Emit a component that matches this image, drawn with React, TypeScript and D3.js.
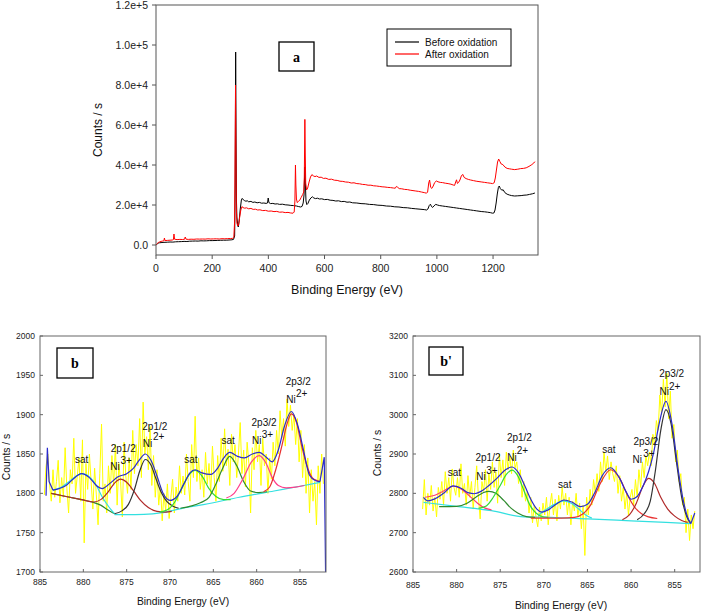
import React from "react";
import * as d3 from "d3";

type P = [number, number];

// ---------- Survey (panel a) ----------
const surveyTicksX = [0, 200, 400, 600, 800, 1000, 1200];
const surveyTicksY = [0, 20000, 40000, 60000, 80000, 100000, 120000];
const legendLabels = ["Before oxidation", "After oxidation"];

const surveyBefore: P[] = [
  [0,0],[4,500],[8,900],[12,1100],[18,1200],[25,1300],[32,1350],[40,1400],[50,1500],[60,1450],[70,1600],[80,1650],[90,1700],[100,1800],[110,1750],[120,1900],[130,1950],[140,2000],[150,1950],[160,2100],[170,2050],[180,2100],[190,2200],[200,2200],[210,2250],[220,2300],[230,2350],[240,2400],[250,2400],[260,2500],[270,2600],[276,2800],[280,4500],[282,30000],[283.6,96500],[285,55000],[286.5,22000],[288,14000],[291,10000],[293,9000],[296,12000],[300,18000],[304,22500],[307,23300],[311,22600],[315,22200],[320,21900],[325,22100],[330,21600],[338,21800],[345,21300],[352,21500],[360,21100],[368,21300],[376,20900],[384,21000],[392,20800],[397,21000],[399.5,23500],[402,21200],[408,20700],[416,20800],[424,20500],[432,20600],[440,20300],[450,20400],[460,20100],[470,20000],[480,19800],[490,19700],[500,19500],[508,19200],[515,19000],[520,19300],[524,21000],[527,25000],[530,39000],[532,30000],[534,22000],[537,20200],[541,20800],[546,22500],[552,23600],[557,24100],[562,23500],[568,23200],[575,23400],[582,23000],[590,23100],[600,22700],[610,22800],[620,22400],[630,22300],[640,22000],[650,22100],[660,21700],[670,21800],[680,21400],[690,21500],[700,21100],[715,21000],[730,20700],[745,20600],[760,20300],[775,20200],[790,19900],[805,19800],[820,19500],[835,19400],[850,19100],[865,19000],[880,18700],[895,18600],[910,18300],[925,18100],[940,17900],[955,17700],[964,17500],[968,18000],[973,19800],[977,20400],[981,19200],[985,18800],[990,19600],[996,20300],[1002,20000],[1010,19700],[1020,19500],[1030,19300],[1040,19100],[1050,18900],[1060,18700],[1070,18500],[1080,18300],[1090,18100],[1100,17900],[1110,17700],[1120,17500],[1130,17300],[1140,17100],[1150,16900],[1160,16700],[1170,16600],[1180,16400],[1190,16200],[1198,15900],[1203,16000],[1207,17500],[1211,21000],[1215,25500],[1219,28800],[1222,29500],[1226,28200],[1231,27400],[1236,27600],[1242,26200],[1250,25400],[1258,25000],[1266,24700],[1277,24500],[1288,24600],[1300,24700],[1310,24900],[1320,25000],[1330,25300],[1340,25600],[1349,26000]
];

const surveyAfter: P[] = [
  [0,0],[4,700],[8,1200],[12,1500],[18,1800],[24,2000],[28,2100],[30,3500],[32,2200],[40,2300],[50,2400],[58,2500],[62,2700],[64,5500],[66,2900],[75,2700],[85,2800],[95,2750],[102,2900],[104,4000],[107,2900],[115,2800],[125,2900],[135,2850],[145,3000],[155,2950],[165,3000],[175,2950],[185,3100],[195,3000],[205,3050],[215,3100],[225,3000],[235,3150],[245,3100],[255,3200],[265,3250],[272,3300],[277,3800],[280,12000],[281.5,45000],[283.2,80000],[284.5,52000],[286,18000],[288,11000],[291,9500],[294,10000],[298,14000],[302,17500],[306,19200],[310,18700],[316,18400],[322,18600],[330,18100],[338,18300],[346,17800],[354,17900],[362,17500],[370,17600],[380,17200],[390,17300],[400,16900],[410,17000],[420,16700],[430,16800],[440,16400],[450,16500],[460,16200],[470,16300],[480,16000],[488,15900],[492,16500],[494.5,22000],[496.5,40000],[498,30000],[500,23000],[503,21200],[507,21800],[512,22500],[517,23800],[522,25200],[526,26500],[528,34000],[530,62800],[531.5,45000],[533,31000],[536,27500],[540,28500],[545,31500],[550,34000],[555,35200],[560,34600],[566,34200],[572,34500],[580,33800],[588,33900],[596,33300],[605,33400],[615,32800],[625,32900],[635,32400],[645,32300],[655,31900],[665,31800],[675,31500],[685,31400],[695,31000],[705,31100],[715,30700],[725,30600],[735,30300],[745,30200],[755,29900],[765,29900],[775,29600],[785,29500],[795,29300],[805,29100],[815,29000],[825,28800],[835,28700],[845,28500],[852,28400],[856,29300],[860,28900],[866,28200],[875,28100],[885,27800],[895,27700],[905,27400],[915,27200],[925,27000],[935,26800],[945,26500],[955,26200],[963,25900],[967,26500],[971,31000],[974,32500],[978,28800],[982,28300],[987,29500],[992,31200],[998,32000],[1004,31600],[1012,31300],[1020,31200],[1030,30900],[1040,30700],[1050,30400],[1058,30000],[1063,29800],[1067,31500],[1070,32600],[1073,30800],[1077,31200],[1082,32500],[1087,34500],[1092,35300],[1097,33800],[1104,33200],[1112,32800],[1120,32500],[1130,32200],[1140,31900],[1150,31700],[1160,31500],[1170,31300],[1180,31100],[1190,30900],[1198,30700],[1204,31100],[1208,33500],[1212,37500],[1216,41500],[1220,43000],[1224,41800],[1229,40500],[1235,40200],[1242,39000],[1250,38300],[1258,38100],[1266,37900],[1277,37700],[1288,37900],[1298,38200],[1308,38300],[1318,38600],[1328,39300],[1338,40200],[1345,41000],[1349,41700]
];

// ---------- Ni 2p panels ----------
const niTicksX = [885, 880, 875, 870, 865, 860, 855];
const bTicksY = [1700, 1750, 1800, 1850, 1900, 1950, 2000];
const bpTicksY = [2600, 2700, 2800, 2900, 3000, 3100, 3200];

// raw spectrum (b): energies from 884.5 eV, step 0.2 eV
const bRawStart = 884.5;
const bRawStep = 0.2;
const bRaw = [
  1798,1835,1850,1812,1790,1830,1795,1815,1842,1788,
  1820,1795,1858,1806,1775,1830,1812,1870,1800,1822,
  1845,1790,1868,1737,1838,1805,1850,1815,1780,1832,
  1798,1760,1825,1888,1790,1812,1775,1835,1800,1848,
  1810,1862,1785,1838,1815,1770,1865,1822,1800,1845,
  1805,1880,1825,1862,1835,1895,1820,1916,1850,1872,
  1830,1885,1810,1848,1795,1830,1785,1810,1765,1800,
  1778,1812,1768,1795,1818,1775,1808,1790,1835,1800,
  1822,1798,1850,1815,1790,1862,1820,1898,1815,1845,
  1805,1830,1795,1852,1812,1838,1800,1860,1820,1790,
  1848,1815,1870,1828,1882,1835,1856,1810,1875,1840,
  1862,1820,1850,1890,1825,1855,1808,1865,1838,1775,
  1858,1830,1880,1840,1862,1810,1870,1835,1850,1800,
  1845,1818,1865,1835,1880,1850,1905,1870,1895,1860,
  1920,1885,1912,1880,1900,1862,1895,1840,1880,1820,
  1862,1800,1845,1775,1830,1790,1815,1760,1835,1800,
  1850,1812
];

// raw spectrum (b'): energies from 883.9 eV, step 0.2 eV
const bpRawStart = 883.9;
const bpRawStep = 0.2;
const bpRaw = [
  2760,2835,2745,2800,2770,2820,2755,2790,2740,2815,
  2785,2830,2770,2855,2800,2840,2780,2862,2815,2795,
  2840,2790,2875,2800,2825,2770,2845,2790,2830,2760,
  2815,2870,2790,2735,2830,2805,2860,2780,2850,2810,
  2880,2815,2855,2775,2900,2840,2885,2820,2905,2860,
  2895,2850,2910,2865,2880,2825,2860,2790,2830,2780,
  2805,2750,2790,2725,2770,2740,2715,2765,2730,2775,
  2745,2790,2720,2770,2800,2745,2785,2730,2795,2760,
  2815,2770,2800,2745,2790,2720,2780,2755,2800,2740,
  2775,2710,2770,2642,2790,2745,2810,2770,2835,2800,
  2850,2805,2880,2830,2905,2855,2895,2835,2880,2850,
  2830,2870,2800,2845,2780,2815,2760,2800,2745,2790,
  2810,2770,2835,2790,2860,2815,2880,2840,2895,2870,
  2905,2870,2950,2920,2985,2960,3050,3000,3090,3020,
  3105,2990,3060,2940,2975,2880,2910,2830,2850,2770,
  2790,2700,2760,2680,2745,2710,2755
];

// fitted curves (b) — [binding energy, counts/s]
const bEnvelope: P[] = [[883.5,1804],[882.8,1806],[882,1810],[881.2,1818],[880.2,1825],[879.3,1820],[878.5,1810],[877.8,1806],[877,1812],[876,1821],[875,1825],[874.2,1832],[873.5,1843],[872.85,1850],[872.2,1842],[871.5,1822],[870.8,1800],[870,1791],[869.2,1796],[868.4,1812],[867.7,1826],[867.1,1830],[866.3,1826],[865.3,1824],[864.5,1832],[863.8,1845],[863.1,1852],[862.2,1847],[861.4,1845],[860.5,1850],[859.7,1852],[858.9,1846],[858.2,1840],[857.5,1855],[856.8,1885],[856,1904],[855.3,1888],[854.6,1855],[853.9,1823],[853.2,1816],[852.7,1815]];
const bEnvelopeStart: P[] = [[884.3,1797],[884.15,1858],[883.95,1815],[883.5,1804]];
const bEnvelopeEnd: P[] = [[852.7,1815],[852.2,1846],[852.05,1700]];
const bBackground: P[] = [[876.4,1773],[874,1773],[872,1774],[870.5,1776],[869,1780],[866,1786],[862,1795],[858,1803],[855,1809],[852.7,1814]];
const bBackgroundLeft: P[] = [[883.7,1800],[882,1796],[880.2,1792],[879,1789],[878,1785],[877.2,1779],[876.4,1774]];
const bSat880: P[] = [[883.5,1804],[882.5,1808],[881.5,1816],[880.2,1825],[879.2,1820],[878.5,1810],[877.8,1795],[877,1782],[876.4,1774]];
const bNi3p12: P[] = [[883.7,1800],[882,1796],[880.2,1792],[878.8,1789],[878,1792],[877.2,1801],[876.4,1813],[875.7,1818],[875,1814],[874.2,1803],[873.4,1791],[872.5,1782],[871.5,1777],[870.5,1776],[869.8,1777]];
const bNi2p12: P[] = [[876.4,1774],[875.5,1778],[874.8,1786],[874.1,1805],[873.5,1828],[872.85,1843],[872.2,1836],[871.6,1818],[871,1801],[870.4,1790],[869.7,1784],[869,1781]];
const bSat867: P[] = [[871.2,1776],[870.3,1779],[869.5,1788],[868.7,1805],[867.9,1822],[867.1,1829],[866.3,1822],[865.5,1806],[864.7,1796],[863.8,1792],[863,1792]];
const bSat863: P[] = [[868.8,1781],[867.5,1784],[866.5,1788],[865.5,1795],[864.7,1812],[864,1830],[863.1,1847],[862.3,1835],[861.5,1815],[860.7,1803],[859.8,1801],[858.8,1802]];
const bNi3p32: P[] = [[863.5,1794],[862.6,1800],[861.6,1818],[860.6,1840],[859.7,1848],[858.9,1838],[858.2,1820],[857.5,1810],[856.6,1807],[855.5,1808],[854.5,1810]];
const bNi2p32: P[] = [[859.2,1802],[858.5,1808],[857.8,1830],[857.1,1860],[856.5,1888],[856,1901],[855.4,1890],[854.8,1860],[854.2,1835],[853.6,1820],[853,1816],[852.7,1815]];

// fitted curves (b')
const bpEnvelope: P[] = [[883.8,2790],[883.3,2781],[882.5,2786],[881.5,2800],[880.4,2819],[879.5,2813],[878.6,2801],[878,2799],[877.2,2805],[876.3,2820],[875.3,2840],[874.4,2860],[873.65,2867],[872.9,2852],[872.2,2820],[871.5,2785],[870.8,2760],[870.2,2752],[869.5,2758],[868.6,2772],[867.7,2783],[866.8,2778],[865.8,2766],[865,2772],[864.2,2800],[863.3,2845],[862.35,2865],[861.4,2842],[860.6,2805],[860,2785],[859.3,2792],[858.6,2820],[858,2855],[857.4,2905],[856.8,2975],[856,3034],[855.3,2975],[854.6,2860],[854,2780],[853.5,2738],[853.15,2723]];
const bpEnvelopeEnd: P[] = [[853.15,2723],[852.7,2750]];
const bpBackground: P[] = [[883.8,2777],[880,2767],[876,2756],[872.3,2740],[869.2,2739],[865,2735],[860,2730],[856,2726],[853.15,2723]];
const bpSat880: P[] = [[883.6,2790],[882.5,2795],[881.5,2806],[880.4,2818],[879.4,2810],[878.5,2793],[877.6,2775],[876.8,2763],[876,2758]];
const bpNi3p12: P[] = [[882,2766],[880,2767],[878.8,2775],[877.8,2790],[876.9,2802],[876.3,2805],[875.5,2800],[874.6,2782],[873.8,2763],[873,2750],[872,2741],[871,2739]];
const bpNi2p12: P[] = [[877.5,2762],[876.6,2768],[875.8,2790],[875,2820],[874.3,2848],[873.65,2859],[873,2845],[872.3,2808],[871.6,2770],[870.9,2750],[870.2,2741],[869.5,2739]];
const bpSat867: P[] = [[870.6,2745],[869.8,2758],[868.8,2772],[867.7,2781],[866.8,2774],[866,2760],[865.2,2745],[864.5,2737]];
const bpSat862: P[] = [[871.5,2737],[868,2737],[866.5,2739],[865.5,2748],[864.6,2772],[863.6,2822],[862.35,2860],[861.3,2838],[860.4,2795],[859.6,2765],[858.8,2748],[858,2740],[857,2736]];
const bpNi3p32: P[] = [[861,2733],[860.2,2745],[859.4,2775],[858.7,2815],[858,2838],[857.3,2825],[856.6,2790],[855.8,2760],[855,2742],[854.2,2731],[853.5,2726]];
const bpNi2p32: P[] = [[859.3,2733],[858.5,2748],[857.8,2780],[857.2,2860],[856.6,2960],[856,3013],[855.4,2975],[854.8,2880],[854.2,2790],[853.6,2740],[853.2,2725]];

// peak annotations: [text, binding energy, counts]
const bLabels: [string, number, number][] = [
  ["sat", 880.2, 1843],
  ["2p1/2", 875.4, 1857], ["Ni", 876.35, 1834], ["3+", 875.05, 1842],
  ["2p1/2", 871.75, 1885], ["Ni", 872.6, 1863], ["2+", 871.3, 1872],
  ["sat", 867.6, 1843],
  ["sat", 863.3, 1867],
  ["2p3/2", 859.15, 1890], ["Ni", 860.0, 1867], ["3+", 858.75, 1875],
  ["2p3/2", 855.2, 1942], ["Ni", 856.05, 1919], ["2+", 854.8, 1927],
];
const bpLabels: [string, number, number][] = [
  ["sat", 880.25, 2853],
  ["2p1/2", 876.4, 2891], ["Ni", 877.2, 2843], ["3+", 875.95, 2857],
  ["2p1/2", 872.8, 2942], ["Ni", 873.65, 2892], ["2+", 872.45, 2909],
  ["sat", 867.6, 2823],
  ["sat", 862.55, 2911],
  ["2p3/2", 858.3, 2932], ["Ni", 859.3, 2886], ["3+", 857.95, 2902],
  ["2p3/2", 855.35, 3104], ["Ni", 856.2, 3058], ["2+", 855.0, 3072],
];

const FONT = "Arial, 'Liberation Sans', Helvetica, sans-serif";
const SERIF = "'Times New Roman', 'Liberation Serif', serif";

function lineGen(xs: d3.ScaleLinear<number, number>, ys: d3.ScaleLinear<number, number>, curve: d3.CurveFactory) {
  return d3.line<P>().x((d) => xs(d[0])).y((d) => ys(d[1])).curve(curve);
}

function Survey() {
  const x = d3.scaleLinear().domain([0, 1360]).range([156, 538]);
  const y = d3.scaleLinear().domain([-5000, 120000]).range([255, 5]);
  const lin = lineGen(x, y, d3.curveLinear);
  const fmt = (v: number) => (v === 0 ? "0.0" : d3.format(".1e")(v));
  return (
    <g>
      <path d={lin(surveyBefore) || ""} fill="none" stroke="#000" strokeWidth={1} />
      <path d={lin(surveyAfter) || ""} fill="none" stroke="#ff0000" strokeWidth={1} />
      <rect x={156} y={5} width={382} height={250} fill="none" stroke="#555" strokeWidth={1} />
      {surveyTicksX.map((t) => (
        <g key={"sx" + t}>
          <line x1={x(t)} x2={x(t)} y1={255} y2={259} stroke="#555" />
          <text x={x(t)} y={272} fontSize={10.5} textAnchor="middle" fontFamily={FONT} fill="#222">{t}</text>
        </g>
      ))}
      {surveyTicksY.map((t) => (
        <g key={"sy" + t}>
          <line x1={152} x2={156} y1={y(t)} y2={y(t)} stroke="#555" />
          <text x={148} y={y(t) + 3.7} fontSize={10.5} textAnchor="end" fontFamily={FONT} fill="#222">{fmt(t)}</text>
        </g>
      ))}
      <text x={347} y={294} fontSize={12.5} textAnchor="middle" fontFamily={FONT} fill="#111">Binding Energy (eV)</text>
      <text transform="translate(102,130) rotate(-90)" fontSize={12} textAnchor="middle" fontFamily={FONT} fill="#111">Counts / s</text>
      <rect x={279} y={42} width={35} height={29} fill="#fff" stroke="#000" strokeWidth={1.3} />
      <text x={296.5} y={61.5} fontSize={14} fontWeight="bold" textAnchor="middle" fontFamily={SERIF}>a</text>
      <rect x={387} y={29} width={124} height={37} fill="#fff" stroke="#000" strokeWidth={1} />
      <line x1={395} x2={419} y1={42} y2={42} stroke="#000" strokeWidth={1.2} />
      <line x1={395} x2={419} y1={54} y2={54} stroke="#ff0000" strokeWidth={1.2} />
      <text x={425} y={45.5} fontSize={10} fontFamily={FONT} fill="#111">{legendLabels[0]}</text>
      <text x={425} y={57.5} fontSize={10} fontFamily={FONT} fill="#111">{legendLabels[1]}</text>
    </g>
  );
}

type Comp = { data: P[]; color: string; smooth: boolean };

function NiPanel(props: {
  left: number; right: number; top: number; bottom: number;
  xDom: [number, number]; yDom: [number, number]; yTicks: number[];
  raw: number[]; rawStart: number; rawStep: number; comps: Comp[];
  labels: [string, number, number][];
  tag: string; tagBox: [number, number, number, number];
  xLabelX: number; xLabelY: number; yLabelX: number; yLabelY: number; tickLabelY: number;
}) {
  const p = props;
  const x = d3.scaleLinear().domain(p.xDom).range([p.left, p.right]);
  const y = d3.scaleLinear().domain(p.yDom).range([p.bottom, p.top]);
  const smooth = lineGen(x, y, d3.curveMonotoneX);
  const lin = lineGen(x, y, d3.curveLinear);
  const rawPts: P[] = p.raw.map((v, i) => [p.rawStart - i * p.rawStep, v]);
  const [tx, ty, tw, th] = p.tagBox;
  const clipId = "clip" + (p.tag === "b" ? "b" : "bp");
  return (
    <g>
      <defs>
        <clipPath id={clipId}>
          <rect x={p.left} y={p.top} width={p.right - p.left} height={p.bottom - p.top} />
        </clipPath>
      </defs>
      <g clipPath={`url(#${clipId})`}>
        <path d={lin(rawPts) || ""} fill="none" stroke="#ffff00" strokeWidth={1} />
        {p.comps.map((c, i) => (
          <path key={i} d={(c.smooth ? smooth : lin)(c.data) || ""} fill="none" stroke={c.color} strokeWidth={1.2} />
        ))}
      </g>
      <rect x={p.left} y={p.top} width={p.right - p.left} height={p.bottom - p.top} fill="none" stroke="#666" strokeWidth={1} />
      {niTicksX.map((t) => (
        <g key={"x" + t}>
          <line x1={x(t)} x2={x(t)} y1={p.bottom} y2={p.bottom - 3} stroke="#666" />
          <text x={x(t)} y={p.tickLabelY} fontSize={8.5} textAnchor="middle" fontFamily={FONT} fill="#222">{t}</text>
        </g>
      ))}
      {p.yTicks.map((t) => (
        <g key={"y" + t}>
          <line x1={p.left} x2={p.left + 3} y1={y(t)} y2={y(t)} stroke="#666" />
          <text x={p.left - 5} y={y(t) + 3} fontSize={8.5} textAnchor="end" fontFamily={FONT} fill="#222">{t}</text>
        </g>
      ))}
      {p.labels.map(([s, e, v], i) => (
        <text key={"l" + i} x={x(e)} y={y(v)} dy="0.35em" fontSize={10} textAnchor="middle" fontFamily={FONT} fill="#111">{s}</text>
      ))}
      <text x={p.xLabelX} y={p.xLabelY} fontSize={10.3} textAnchor="middle" fontFamily={FONT} fill="#111">Binding Energy (eV)</text>
      <text transform={`translate(${p.yLabelX},${p.yLabelY}) rotate(-90)`} fontSize={10.3} textAnchor="middle" fontFamily={FONT} fill="#111">Counts / s</text>
      <rect x={tx} y={ty} width={tw} height={th} fill="#fff" stroke="#000" strokeWidth={1.3} />
      <text x={tx + tw / 2} y={ty + th / 2 + 5} fontSize={14} fontWeight="bold" textAnchor="middle" fontFamily={SERIF}>{p.tag}</text>
    </g>
  );
}

export default function App() {
  const bComps: Comp[] = [
    { data: bBackground, color: "#33e0e0", smooth: true },
    { data: bBackgroundLeft, color: "#2e8b2e", smooth: true },
    { data: bSat880, color: "#33e0e0", smooth: true },
    { data: bNi3p12, color: "#b02a2a", smooth: true },
    { data: bNi2p12, color: "#333333", smooth: true },
    { data: bSat867, color: "#33dd33", smooth: true },
    { data: bSat863, color: "#2e8b2e", smooth: true },
    { data: bNi3p32, color: "#ff3d8b", smooth: true },
    { data: bNi2p32, color: "#e83030", smooth: true },
    { data: bEnvelope, color: "#2b2bcc", smooth: true },
    { data: bEnvelopeStart, color: "#2b2bcc", smooth: false },
    { data: bEnvelopeEnd, color: "#2b2bcc", smooth: false },
  ];
  const bpComps: Comp[] = [
    { data: bpBackground, color: "#33e0e0", smooth: true },
    { data: bpSat880, color: "#ff3d6e", smooth: true },
    { data: bpNi3p12, color: "#2e8b2e", smooth: true },
    { data: bpNi2p12, color: "#33dd33", smooth: true },
    { data: bpSat867, color: "#33e0e0", smooth: true },
    { data: bpSat862, color: "#e83030", smooth: true },
    { data: bpNi3p32, color: "#b02a2a", smooth: true },
    { data: bpNi2p32, color: "#333333", smooth: true },
    { data: bpEnvelope, color: "#2b2bcc", smooth: true },
    { data: bpEnvelopeEnd, color: "#2b2bcc", smooth: false },
  ];
  return (
    <svg width={702} height={612} style={{ position: "absolute", left: 0, top: 0, background: "#fff" }}>
      <rect x={0} y={0} width={702} height={612} fill="#fff" />
      <Survey />
      <NiPanel left={40} right={326} top={336} bottom={572} xDom={[885, 852]} yDom={[1700, 2000]} yTicks={bTicksY}
        raw={bRaw} rawStart={bRawStart} rawStep={bRawStep} comps={bComps} labels={bLabels}
        tag="b" tagBox={[57, 348, 36, 30]} xLabelX={183} xLabelY={605} yLabelX={9.5} yLabelY={457} tickLabelY={584.5} />
      <NiPanel left={413} right={700} top={336} bottom={572} xDom={[885, 852.1]} yDom={[2600, 3200]} yTicks={bpTicksY}
        raw={bpRaw} rawStart={bpRawStart} rawStep={bpRawStep} comps={bpComps} labels={bpLabels}
        tag="b'" tagBox={[429, 347, 34, 28]} xLabelX={561} xLabelY={608.5} yLabelX={381} yLabelY={453} tickLabelY={588} />
    </svg>
  );
}
